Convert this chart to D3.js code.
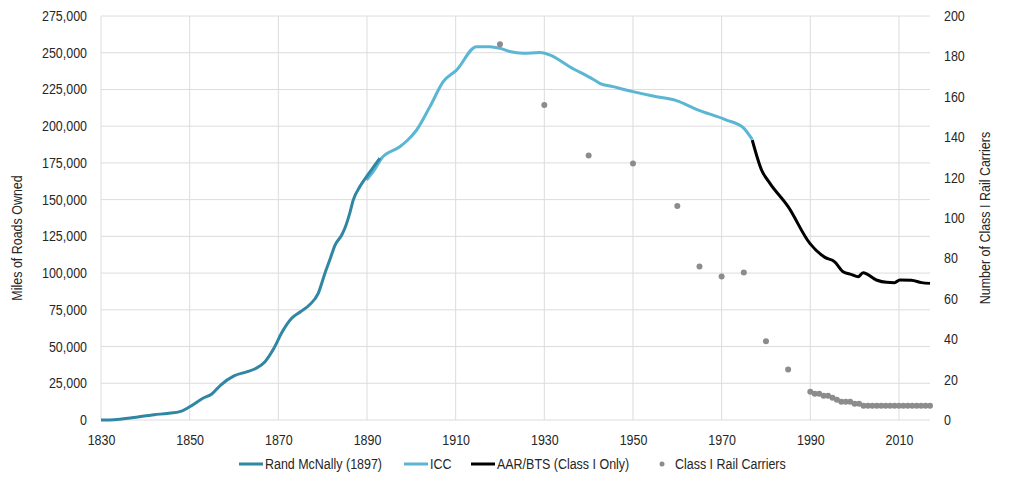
<!DOCTYPE html>
<html>
<head>
<meta charset="utf-8">
<script src="https://cdn.jsdelivr.net/npm/d3@7"></script>
<style>
  body { margin: 0; background: #fff; }
  svg text { font-family: "Liberation Sans", Arial, sans-serif; fill: #262626; }
</style>
</head>
<body>
<div id="chart"></div>
<script>
const width = 1024;
const height = 480;
const margin = { top: 16, right: 94, bottom: 60, left: 101 };

// Rand McNally (1897) - miles of road owned
const randYears = [1830, 1833, 1837, 1842, 1845, 1848, 1850, 1853, 1855, 1857, 1860, 1863, 1865, 1867, 1869, 1870.7, 1873, 1875, 1877, 1879, 1880.5, 1881.6, 1882.8, 1884.3, 1885, 1886.1, 1886.9, 1888.4, 1889.9, 1891.8, 1892.9];
const randMiles = [0, 200, 1500, 3600, 4500, 5900, 9000, 14800, 17700, 23800, 30000, 32900, 35200, 39700, 48800, 59000, 69200, 73700, 78300, 86200, 99800, 108900, 119100, 125900, 130500, 140700, 149800, 158900, 165700, 173600, 178200];

// ICC
const iccYears = [1889.9, 1891.4, 1893.3, 1897.4, 1899.2, 1901.2, 1904.2, 1907.2, 1910.2, 1914.7, 1917.7, 1920, 1922.2, 1925.2, 1929, 1931.2, 1935.7, 1941, 1942.5, 1945.5, 1950, 1954.5, 1959.8, 1964.3, 1971.1, 1974.8, 1976.9];
const iccMiles = [163400, 169000, 178200, 186000, 190600, 197400, 213300, 230300, 238200, 254100, 254100, 253000, 250800, 249600, 250100, 248500, 240500, 231900, 229200, 226900, 223500, 220500, 217400, 211500, 204200, 199200, 191000];

// AAR/BTS (Class I only)
const aarYears = [1976.9, 1979, 1980.9, 1985, 1989.9, 1993.3, 1995.5, 1997.4, 1999.3, 2000.8, 2001.9, 2004.9, 2007.2, 2009, 2010.2, 2012.8, 2015.1, 2017];
const aarMiles = [190600, 170200, 161100, 145200, 120200, 110700, 107700, 100900, 99000, 97500, 100300, 95300, 93700, 93500, 95300, 95100, 93500, 93000];

// Class I rail carriers (right axis)
const carrierYears = [1920, 1930, 1940, 1950, 1960, 1965, 1970, 1975, 1980, 1985, 1990, 1991, 1992, 1993, 1994, 1995, 1996, 1997, 1998, 1999, 2000, 2001, 2002, 2003, 2004, 2005, 2006, 2007, 2008, 2009, 2010, 2011, 2012, 2013, 2014, 2015, 2016, 2017];
const carrierCounts = [186, 156, 131, 127, 106, 76, 71, 73, 39, 25, 14, 13, 13, 12, 12, 11, 10, 9, 9, 9, 8, 8, 7, 7, 7, 7, 7, 7, 7, 7, 7, 7, 7, 7, 7, 7, 7, 7];

const xTicks = [1830, 1850, 1870, 1890, 1910, 1930, 1950, 1970, 1990, 2010];
const leftTicks = d3.range(0, 275001, 25000);
const rightTicks = d3.range(0, 201, 20);

const legendItems = [
  { label: "Rand McNally (1897)", color: "#2f87a3", type: "line" },
  { label: "ICC", color: "#5bb6d3", type: "line" },
  { label: "AAR/BTS (Class I Only)", color: "#000000", type: "line" },
  { label: "Class I Rail Carriers", color: "#8c8c8c", type: "dot" }
];

const innerW = width - margin.left - margin.right;
const innerH = height - margin.top - margin.bottom;
const fontSize = "14px";
const squeeze = 0.89; // text in the original is slightly condensed

const svg = d3.select("#chart")
  .append("svg")
  .attr("width", width)
  .attr("height", height);

const g = svg.append("g")
  .attr("transform", `translate(${margin.left}, ${margin.top})`);

const xScale = d3.scaleLinear().domain([1830, 2017]).range([0, innerW]);
const yLeft = d3.scaleLinear().domain([0, 275000]).range([innerH, 0]);
const yRight = d3.scaleLinear().domain([0, 200]).range([innerH, 0]);

// gridlines
g.append("g")
  .selectAll("line")
  .data(leftTicks)
  .enter().append("line")
  .attr("x1", 0).attr("x2", innerW)
  .attr("y1", d => yLeft(d)).attr("y2", d => yLeft(d))
  .attr("stroke", "#dcdcdc").attr("stroke-width", 1);

g.append("g")
  .selectAll("line")
  .data(xTicks)
  .enter().append("line")
  .attr("x1", d => xScale(d)).attr("x2", d => xScale(d))
  .attr("y1", 0).attr("y2", innerH)
  .attr("stroke", "#dcdcdc").attr("stroke-width", 1);

// axes
const xAxis = g.append("g")
  .attr("transform", `translate(0, ${innerH})`)
  .call(d3.axisBottom(xScale).tickValues(xTicks).tickFormat(d3.format("d")).tickSize(0).tickPadding(15));

const leftAxis = g.append("g")
  .call(d3.axisLeft(yLeft).tickValues(leftTicks).tickFormat(d3.format(",")).tickSize(0).tickPadding(14));

const rightAxis = g.append("g")
  .attr("transform", `translate(${innerW}, 0)`)
  .call(d3.axisRight(yRight).tickValues(rightTicks).tickSize(0).tickPadding(14));

[xAxis, leftAxis, rightAxis].forEach(a => {
  a.select(".domain").remove();
  a.selectAll("text")
    .style("font-size", fontSize)
    .attr("fill", "#262626")
    .attr("x", function() { return (+this.getAttribute("x") || 0) / squeeze; })
    .attr("transform", `scale(${squeeze}, 1)`);
});

// axis titles
svg.append("text")
  .attr("transform", `translate(22, 238) rotate(-90) scale(${squeeze}, 1)`)
  .attr("text-anchor", "middle")
  .style("font-size", fontSize)
  .text("Miles of Roads Owned");

svg.append("text")
  .attr("transform", `translate(990, ${margin.top + innerH / 2}) rotate(-90) scale(${squeeze}, 1)`)
  .attr("text-anchor", "middle")
  .style("font-size", fontSize)
  .text("Number of Class I Rail Carriers");

// lines
const line = d3.line()
  .x(d => xScale(d[0]))
  .y(d => yLeft(d[1]))
  .curve(d3.curveMonotoneX);

const series = [
  { years: iccYears, values: iccMiles, color: "#5bb6d3" },
  { years: randYears, values: randMiles, color: "#2f87a3" },
  { years: aarYears, values: aarMiles, color: "#000000" }
];

series.forEach(s => {
  g.append("path")
    .datum(d3.zip(s.years, s.values))
    .attr("fill", "none")
    .attr("stroke", s.color)
    .attr("stroke-width", 3)
    .attr("stroke-linejoin", "round")
    .attr("d", line);
});

// carrier dots
g.selectAll(".dot")
  .data(d3.zip(carrierYears, carrierCounts))
  .enter().append("circle")
  .attr("class", "dot")
  .attr("cx", d => xScale(d[0]))
  .attr("cy", d => yRight(d[1]))
  .attr("r", 3)
  .attr("fill", "#8c8c8c");

// legend
const legendX = [239, 404, 471, 658];
const legendY = 464;
const legend = svg.append("g");
legendItems.forEach((item, i) => {
  const lg = legend.append("g").attr("transform", `translate(${legendX[i]}, ${legendY})`);
  let textX = 26;
  if (item.type === "line") {
    lg.append("line")
      .attr("x1", 0).attr("x2", 24)
      .attr("y1", 0).attr("y2", 0)
      .attr("stroke", item.color).attr("stroke-width", 3);
  } else {
    lg.append("circle").attr("cx", 4).attr("cy", 0).attr("r", 2.5).attr("fill", item.color);
    textX = 17;
  }
  lg.append("text")
    .attr("transform", `translate(${textX}, 0) scale(${squeeze}, 1)`)
    .attr("dy", "0.35em")
    .style("font-size", fontSize)
    .text(item.label);
});
</script>
</body>
</html>
